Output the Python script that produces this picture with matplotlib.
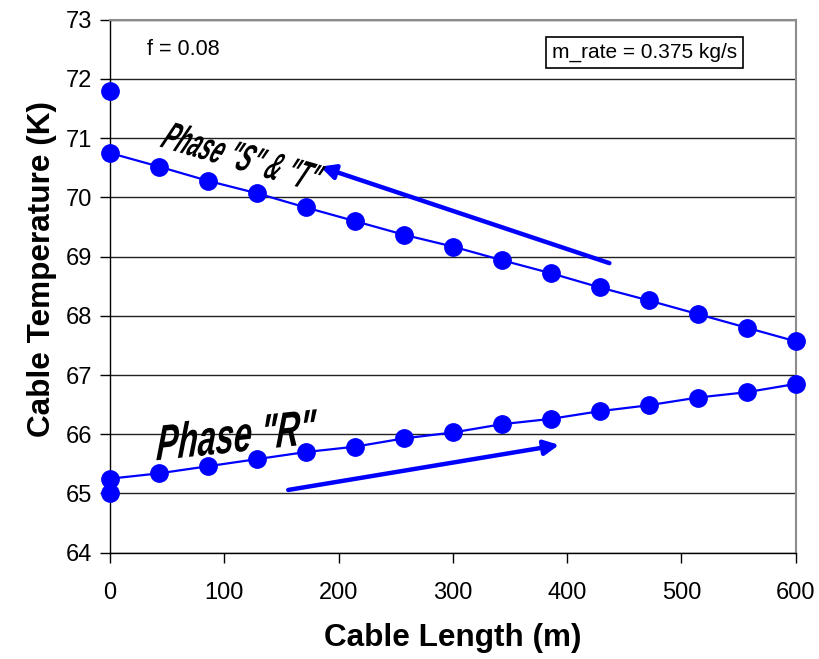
import matplotlib
matplotlib.use("Agg")
import matplotlib.pyplot as plt
from matplotlib import font_manager
from matplotlib.patheffects import AbstractPathEffect
from matplotlib.transforms import Affine2D

# Cable position along the run (m)
cable_length = [0, 42.9, 85.7, 128.6, 171.4, 214.3, 257.1, 300.0,
                342.9, 385.7, 428.6, 471.4, 514.3, 557.1, 600.0]

# Temperatures of the two return phases (K)
temp_st = [70.75, 70.52, 70.28, 70.07, 69.83, 69.60, 69.37, 69.17,
           68.94, 68.72, 68.48, 68.26, 68.03, 67.80, 67.57]
temp_r = [65.25, 65.34, 65.46, 65.58, 65.70, 65.79, 65.93, 66.03,
          66.17, 66.26, 66.39, 66.49, 66.62, 66.71, 66.85]

# Inlet / outlet single points at x = 0
end_x = [0, 0]
end_temp = [71.80, 65.00]

x_ticks = [0, 100, 200, 300, 400, 500, 600]
y_ticks = [64, 65, 66, 67, 68, 69, 70, 71, 72, 73]

names = {f.name for f in font_manager.fontManager.ttflist}
base_font = "Liberation Sans" if "Liberation Sans" in names else "DejaVu Sans"
plt.rcParams["font.family"] = [base_font, "DejaVu Sans"]

BLUE = "#0000FF"


class Condense(AbstractPathEffect):
    """Squeeze glyph outlines along the baseline and add extra slant."""

    def __init__(self, sx=1.0, sy=1.0, slant=0.0):
        super().__init__()
        self._local = Affine2D().scale(sx, sy).skew_deg(slant, 0)

    def draw_path(self, renderer, gc, tpath, affine, rgbFace=None):
        renderer.draw_path(gc, tpath, self._local + affine, rgbFace)


fig = plt.figure(figsize=(8.19, 6.59), dpi=100)
ax = fig.add_axes([0.1343, 0.1613, 0.8372, 0.8087])

ax.set_xlim(0, 600)
ax.set_ylim(64, 73)
ax.set_xticks(x_ticks)
ax.set_yticks(y_ticks)
ax.tick_params(axis="both", labelsize=17, direction="out", length=7,
               width=1, color="black")
ax.tick_params(axis="x", pad=14)
ax.tick_params(axis="y", pad=6)

ax.grid(axis="y", color="#222222", linewidth=1)
ax.set_axisbelow(True)
for side in ("top", "right"):
    ax.spines[side].set_color("#8c8c8c")
    ax.spines[side].set_linewidth(1.5)
for side in ("left", "bottom"):
    ax.spines[side].set_color("black")
    ax.spines[side].set_linewidth(1)

line_kw = dict(color=BLUE, linewidth=1.6, marker="o", markersize=12.5,
               markerfacecolor=BLUE, markeredgecolor=BLUE, clip_on=False, zorder=3)
ax.plot(cable_length, temp_st, **line_kw)
ax.plot(cable_length, temp_r, **line_kw)
ax.plot(end_x, end_temp, linestyle="none", marker="o", markersize=12.5,
        color=BLUE, clip_on=False, zorder=3)

ax.set_xlabel("Cable Length (m)", fontsize=22.7, fontweight="bold", labelpad=14)
ax.set_ylabel("Cable Temperature (K)", fontsize=22.7, fontweight="bold")
ax.yaxis.set_label_coords(-0.078, 0.532)

ax.text(32, 72.5, "f = 0.08", fontsize=15.5, ha="left", va="center")
ax.text(468, 72.45, "m_rate = 0.375 kg/s", fontsize=15, ha="center", va="center",
        bbox=dict(boxstyle="square,pad=0.28", facecolor="white",
                  edgecolor="black", linewidth=1.2))

# Flow direction arrows
arrow_kw = dict(arrowstyle="-|>", color=BLUE, lw=3.2, mutation_scale=22,
                shrinkA=0, shrinkB=0)
ax.annotate("", xy=(184, 70.52), xytext=(437, 68.89), arrowprops=arrow_kw)
ax.annotate("", xy=(393, 65.82), xytext=(156, 65.06), arrowprops=arrow_kw)

ax.text(43, 70.86, 'Phase "S" & "T"', fontsize=25, fontweight="bold",
        fontstyle="italic", rotation=-16.3, ha="left", va="baseline",
        rotation_mode="anchor", path_effects=[Condense(0.6, 1.15, 12)])
ax.text(40, 65.56, 'Phase "R"', fontsize=33, fontweight="bold",
        fontstyle="italic", rotation=6, ha="left", va="baseline",
        rotation_mode="anchor", path_effects=[Condense(0.71, 1.08, 10)])

fig.savefig("out.png", dpi=100, facecolor="white")
